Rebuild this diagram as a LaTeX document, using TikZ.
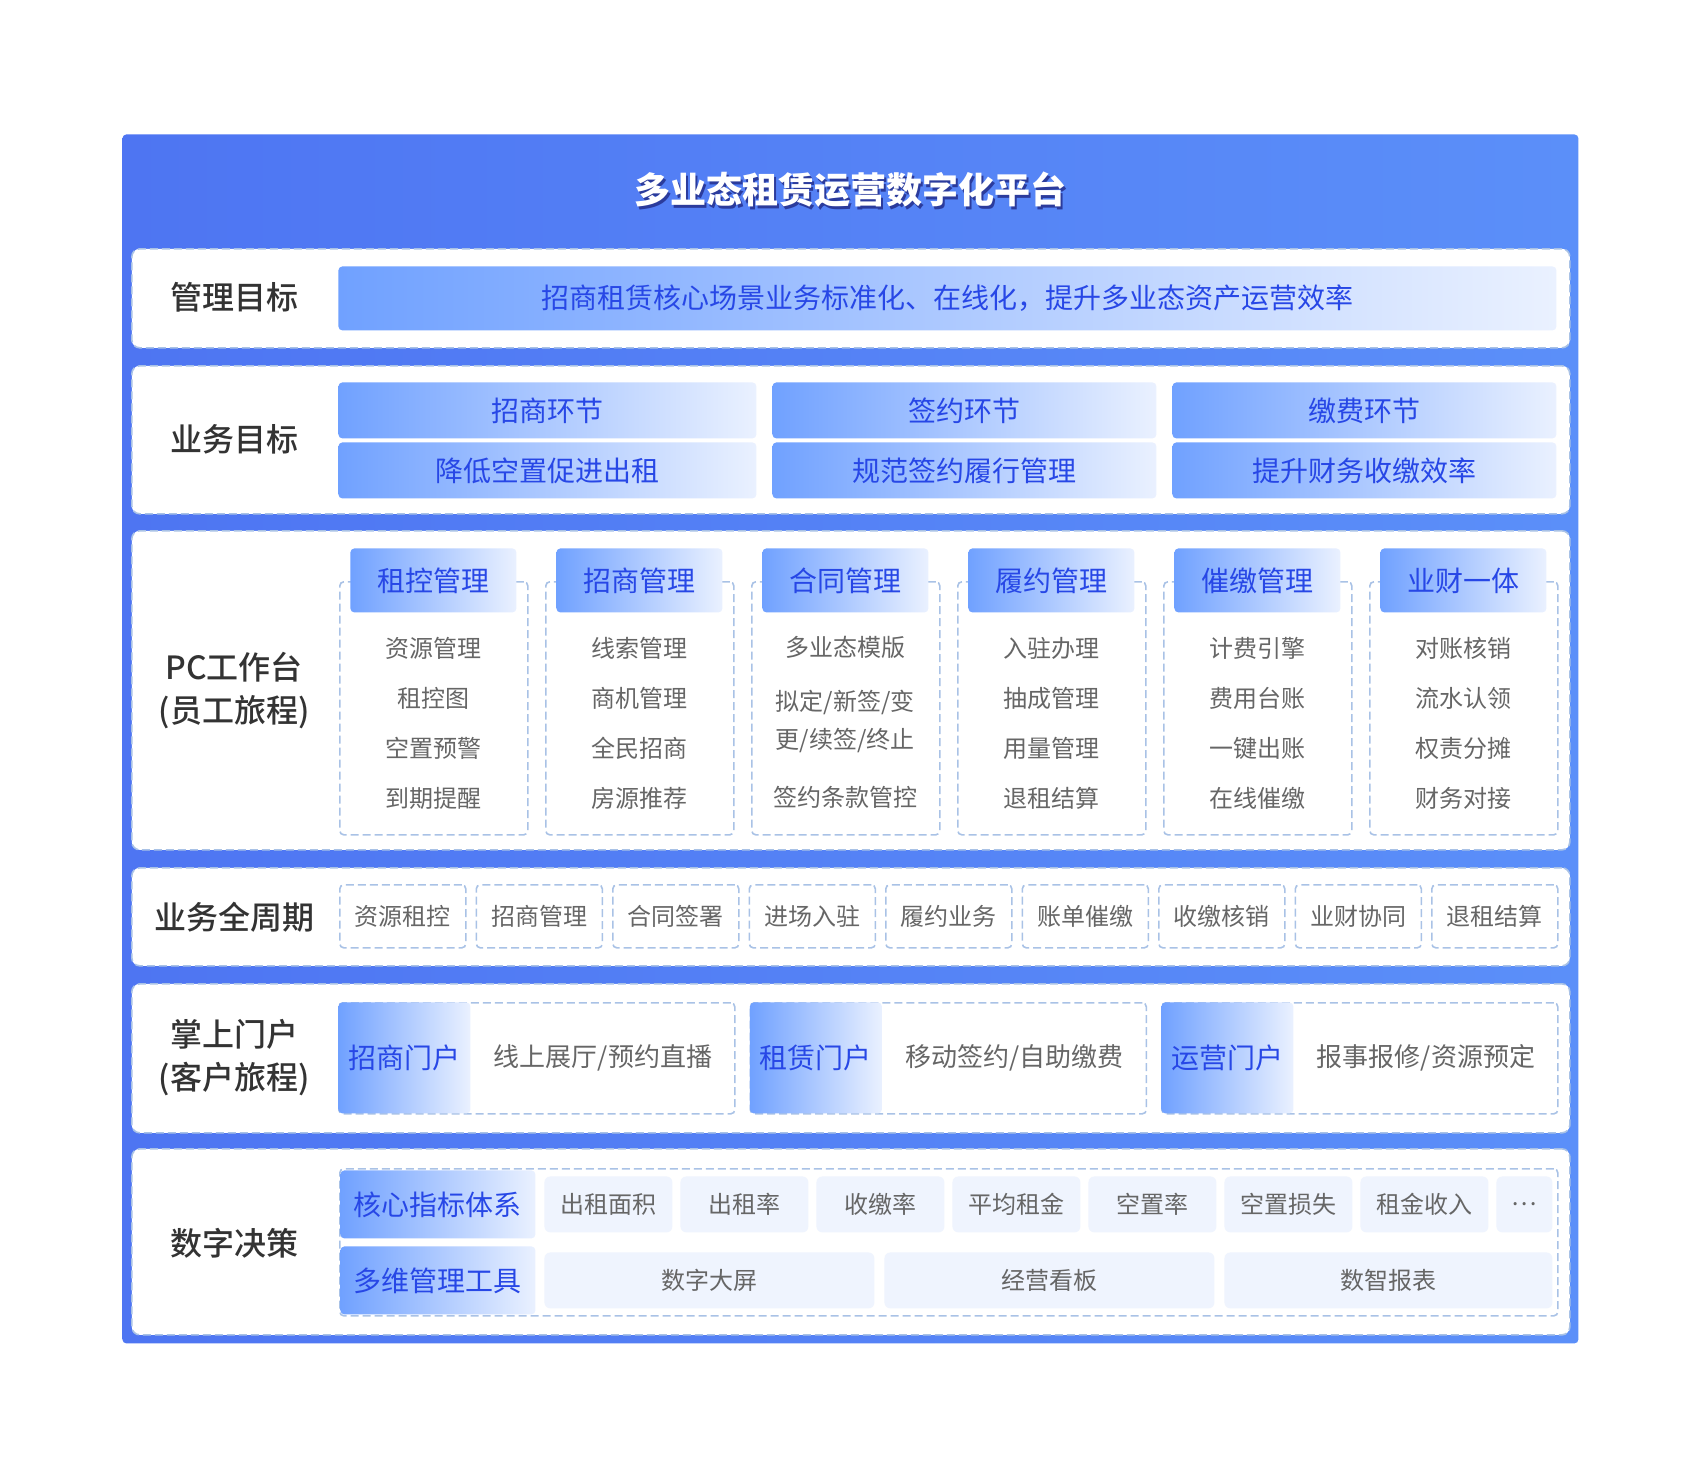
\documentclass[tikz,border=0pt]{standalone}
\usepackage{fontspec}
\setmainfont{Noto Sans CJK SC}
\newfontfamily\lblfont{Noto Sans CJK SC}[UprightFont={* Medium}]
\usepackage{xcolor}
\usepackage{tikz}
\definecolor{panelL}{HTML}{4E75F2}
\definecolor{panelR}{HTML}{5B8FF9}
\definecolor{dashline}{HTML}{A9C2E6}
\definecolor{barL}{HTML}{70A1FF}
\definecolor{barR}{HTML}{EAF1FF}
\definecolor{barText}{HTML}{2747E6}
\definecolor{labelText}{HTML}{333333}
\definecolor{itemText}{HTML}{666666}
\definecolor{cellFill}{HTML}{EFF4FE}
\definecolor{titleShadow}{HTML}{2B3B9C}
\tikzset{boxsize/.style 2 args={minimum width={#1*0.5pt},minimum height={#2*0.5pt}},
         outerpanel/.style={rectangle,left color=panelL,right color=panelR,rounded corners=2pt,anchor=north west,inner sep=0pt},
         title/.style={text=white,font=\fontsize{18}{22}\selectfont\bfseries},
         rowpanel/.style={rectangle,draw=dashline,line width=0.8pt,dash pattern=on 4pt off 2pt,fill=white,rounded corners=4pt,anchor=north west,inner sep=0pt},
         rowlabel/.style={text=labelText,font=\fontsize{16}{21.5}\selectfont\lblfont,align=center},
         bar/.style={rectangle,left color=barL,right color=barR,rounded corners=2pt,text=barText,font=\fontsize{14}{17}\selectfont,anchor=north west,inner sep=0pt},
         colbox/.style={rectangle,draw=dashline,line width=0.8pt,dash pattern=on 4pt off 2pt,rounded corners=2pt,anchor=north west,inner sep=0pt,text=itemText,font=\fontsize{12}{15}\selectfont},
         item/.style={text=itemText,font=\fontsize{12}{19}\selectfont,align=center},
         desc/.style={text=itemText,font=\fontsize{13}{16}\selectfont},
         cell/.style={rectangle,fill=cellFill,rounded corners=3pt,text=itemText,font=\fontsize{12}{15}\selectfont,anchor=north west,inner sep=0pt}}

\begin{document}
\begin{tikzpicture}[x=0.5pt,y=-0.5pt]
    \useasboundingbox (0,0) rectangle (1700,1480);
    \node (frame) [outerpanel, boxsize={1456}{1209}] at (122,134) {};
    \node (titleshadow) [title, text=titleShadow] at (852.5,192.5) {多业态租赁运营数字化平台};
    \node (title) [title] at (850,190) {多业态租赁运营数字化平台};
    % 管理目标
    \node (mgmt) [rowpanel, boxsize={1438}{99}] at (131,248) {};
    \node (mgmtlbl) [rowlabel] at (234,297) {管理目标};
    \node (mgmtbar) [bar, boxsize={1218}{64}] at (338,266) {招商租赁核心场景业务标准化、在线化，提升多业态资产运营效率};
    % 业务目标
    \node (goal) [rowpanel, boxsize={1438}{148}] at (131,365) {};
    \node (goallbl) [rowlabel] at (234,439) {业务目标};
    \node (goalA) [bar, boxsize={418}{56}] at (338,382) {招商环节};
    \node (goalAx) [bar, boxsize={418}{56}] at (338,442) {降低空置促进出租};
    \node (goalB) [bar, boxsize={384}{56}] at (772,382) {签约环节};
    \node (goalBx) [bar, boxsize={384}{56}] at (772,442) {规范签约履行管理};
    \node (goalC) [bar, boxsize={384}{56}] at (1172,382) {缴费环节};
    \node (goalCx) [bar, boxsize={384}{56}] at (1172,442) {提升财务收缴效率};
    % PC工作台
    \node (pc) [rowpanel, boxsize={1438}{319}] at (131,530) {};
    \node (pclbl) [rowlabel] at (234,691) {PC工作台\\(员工旅程)};
    \node (colA) [colbox, boxsize={188}{253}] at (339,581) {};
    \node (colB) [colbox, boxsize={188}{253}] at (545,581) {};
    \node (colC) [colbox, boxsize={188}{253}] at (751,581) {};
    \node (colD) [colbox, boxsize={188}{253}] at (957,581) {};
    \node (colE) [colbox, boxsize={188}{253}] at (1163,581) {};
    \node (colF) [colbox, boxsize={188}{253}] at (1369,581) {};
    \node (headA) [bar, boxsize={166}{64}] at (350,548) {租控管理};
    \node (headB) [bar, boxsize={166}{64}] at (556,548) {招商管理};
    \node (headC) [bar, boxsize={166}{64}] at (762,548) {合同管理};
    \node (headD) [bar, boxsize={166}{64}] at (968,548) {履约管理};
    \node (headE) [bar, boxsize={166}{64}] at (1174,548) {催缴管理};
    \node (headF) [bar, boxsize={166}{64}] at (1380,548) {业财一体};
    \node (itemA1) [item] at (433,648) {资源管理};
    \node (itemA2) [item] at (433,698) {租控图};
    \node (itemA3) [item] at (433,748) {空置预警};
    \node (itemA4) [item] at (433,798) {到期提醒};
    \node (itemB1) [item] at (639,648) {线索管理};
    \node (itemB2) [item] at (639,698) {商机管理};
    \node (itemB3) [item] at (639,748) {全民招商};
    \node (itemB4) [item] at (639,798) {房源推荐};
    \node (itemC1) [item] at (845,647) {多业态模版};
    \node (itemC2) [item] at (845,721) {拟定/新签/变\\更/续签/终止};
    \node (itemC3) [item] at (845,797) {签约条款管控};
    \node (itemD1) [item] at (1051,648) {入驻办理};
    \node (itemD2) [item] at (1051,698) {抽成管理};
    \node (itemD3) [item] at (1051,748) {用量管理};
    \node (itemD4) [item] at (1051,798) {退租结算};
    \node (itemE1) [item] at (1257,648) {计费引擎};
    \node (itemE2) [item] at (1257,698) {费用台账};
    \node (itemE3) [item] at (1257,748) {一键出账};
    \node (itemE4) [item] at (1257,798) {在线催缴};
    \node (itemF1) [item] at (1463,648) {对账核销};
    \node (itemF2) [item] at (1463,698) {流水认领};
    \node (itemF3) [item] at (1463,748) {权责分摊};
    \node (itemF4) [item] at (1463,798) {财务对接};
    % 业务全周期
    \node (cycle) [rowpanel, boxsize={1438}{98}] at (131,867) {};
    \node (cyclelbl) [rowlabel] at (234,917) {业务全周期};
    \node (stage1) [colbox, boxsize={126}{63}] at (339,884) {资源租控};
    \node (stage2) [colbox, boxsize={126}{63}] at (475.5,884) {招商管理};
    \node (stage3) [colbox, boxsize={126}{63}] at (612,884) {合同签署};
    \node (stage4) [colbox, boxsize={126}{63}] at (748.5,884) {进场入驻};
    \node (stage5) [colbox, boxsize={126}{63}] at (885,884) {履约业务};
    \node (stage6) [colbox, boxsize={126}{63}] at (1021.5,884) {账单催缴};
    \node (stage7) [colbox, boxsize={126}{63}] at (1158,884) {收缴核销};
    \node (stage8) [colbox, boxsize={126}{63}] at (1294.5,884) {业财协同};
    \node (stage9) [colbox, boxsize={126}{63}] at (1431,884) {退租结算};
    % 掌上门户
    \node (portal) [rowpanel, boxsize={1438}{149}] at (131,983) {};
    \node (portallbl) [rowlabel] at (234,1058) {掌上门户\\(客户旅程)};
    \node (portA) [colbox, boxsize={396}{111}] at (338,1002) {};
    \node (portB) [colbox, boxsize={396}{111}] at (749.5,1002) {};
    \node (portC) [colbox, boxsize={396}{111}] at (1161,1002) {};
    \node (portAname) [bar, boxsize={132}{111}] at (338,1002) {招商门户};
    \node (portBname) [bar, boxsize={132}{111}] at (749.5,1002) {租赁门户};
    \node (portCname) [bar, boxsize={132}{111}] at (1161,1002) {运营门户};
    \node (portAdesc) [desc] at (603,1057.5) {线上展厅/预约直播};
    \node (portBdesc) [desc] at (1014.5,1057.5) {移动签约/自助缴费};
    \node (portCdesc) [desc] at (1426,1057.5) {报事报修/资源预定};
    % 数字决策
    \node (bi) [rowpanel, boxsize={1438}{186}] at (131,1148) {};
    \node (bilbl) [rowlabel] at (234,1243) {数字决策};
    \node (biframe) [colbox, boxsize={1218}{147}] at (339,1168) {};
    \node (kpi) [bar, boxsize={195}{68}] at (340,1170) {核心指标体系};
    \node (tools) [bar, boxsize={195}{68}] at (340,1246) {多维管理工具};
    \node (kpi1) [cell, boxsize={128}{56}] at (544,1176) {出租面积};
    \node (kpi2) [cell, boxsize={128}{56}] at (680,1176) {出租率};
    \node (kpi3) [cell, boxsize={128}{56}] at (816,1176) {收缴率};
    \node (kpi4) [cell, boxsize={128}{56}] at (952,1176) {平均租金};
    \node (kpi5) [cell, boxsize={128}{56}] at (1088,1176) {空置率};
    \node (kpi6) [cell, boxsize={128}{56}] at (1224,1176) {空置损失};
    \node (kpi7) [cell, boxsize={128}{56}] at (1360,1176) {租金收入};
    \node (kpimore) [cell, boxsize={56}{56}] at (1496,1176) {…};
    \node (tool1) [cell, boxsize={330}{56}] at (544,1252) {数字大屏};
    \node (tool2) [cell, boxsize={330}{56}] at (884,1252) {经营看板};
    \node (tool3) [cell, boxsize={328}{56}] at (1224,1252) {数智报表};
\end{tikzpicture}
\end{document}
